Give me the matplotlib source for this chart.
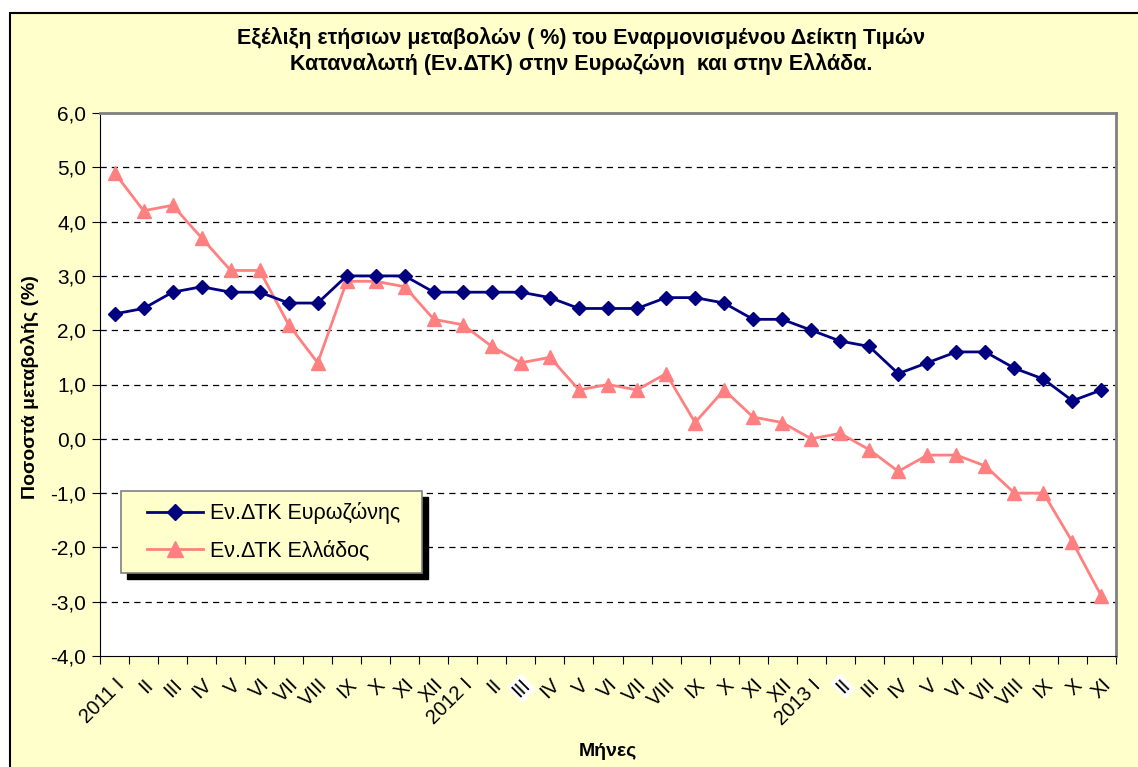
import matplotlib
matplotlib.use("Agg")
import matplotlib.pyplot as plt
from matplotlib.patches import Rectangle
from matplotlib.lines import Line2D

plt.rcParams['font.family'] = ['Liberation Sans', 'DejaVu Sans']

months = ["I", "II", "III", "IV", "V", "VI", "VII", "VIII", "IX", "X", "XI", "XII"]
labels = (["2011 I"] + months[1:] + ["2012 I"] + months[1:] + ["2013 I"] + months[1:11])

eurozone = [2.3, 2.4, 2.7, 2.8, 2.7, 2.7, 2.5, 2.5, 3.0, 3.0, 3.0, 2.7,
            2.7, 2.7, 2.7, 2.6, 2.4, 2.4, 2.4, 2.6, 2.6, 2.5, 2.2, 2.2,
            2.0, 1.8, 1.7, 1.2, 1.4, 1.6, 1.6, 1.3, 1.1, 0.7, 0.9]
greece = [4.9, 4.2, 4.3, 3.7, 3.1, 3.1, 2.1, 1.4, 2.9, 2.9, 2.8, 2.2,
          2.1, 1.7, 1.4, 1.5, 0.9, 1.0, 0.9, 1.2, 0.3, 0.9, 0.4, 0.3,
          0.0, 0.1, -0.2, -0.6, -0.3, -0.3, -0.5, -1.0, -1.0, -1.9, -2.9]
yticks = [-4, -3, -2, -1, 0, 1, 2, 3, 4, 5, 6]
highlighted = [14, 25]

W, H = 1138, 767
fig = plt.figure(figsize=(W / 100, H / 100), dpi=100)
fig.patch.set_facecolor('white')

bg = Rectangle((10 / W, -0.05), 1.1, 1 - 12.5 / H + 0.05, transform=fig.transFigure,
               facecolor='#FFFFCC', edgecolor='black', lw=1.5, zorder=-10)
fig.patches.append(bg)

ax = fig.add_axes([100 / W, 1 - 656 / H, (1116 - 100) / W, (656 - 113) / H])
ax.set_facecolor('white')
x = list(range(len(labels)))

ax.plot(x, eurozone, color='#000080', lw=2, marker='D', ms=7, mfc='#000080', mec='#000080', zorder=4)
ax.plot(x, greece, color='#FF8080', lw=2, marker='^', ms=10, mfc='#FF8080', mec='#FF8080', zorder=3)

ax.set_xlim(-0.5, len(labels) - 0.5)
ax.set_ylim(-4, 6)
ax.set_yticks(yticks)
ax.set_yticklabels([f"{v:.1f}".replace('.', ',') for v in yticks], fontsize=15)
for v in yticks[1:-1]:
    ax.axhline(v, color='black', lw=0.9, ls=(0, (5, 4)), zorder=1)

ax.set_xticks([i - 0.5 for i in range(len(labels) + 1)])
ax.set_xticklabels([])
ax.set_xticks(x, minor=True)
ax.set_xticklabels(labels, minor=True, rotation=45, ha='right', va='top',
                   rotation_mode='anchor', fontsize=14.5)
ax.tick_params(axis='x', which='minor', length=0, pad=14)
ax.tick_params(axis='x', which='major', length=6, direction='out', color='black')
ax.tick_params(axis='y', length=6, direction='out', pad=4)
for i in highlighted:
    ax.get_xticklabels(minor=True)[i].set_bbox(dict(facecolor='white', edgecolor='none', pad=1))

for s in ['top', 'right']:
    ax.spines[s].set_color('#808080')
    ax.spines[s].set_linewidth(2)
ax.spines['left'].set_color('black')
ax.spines['bottom'].set_color('black')

fig.text(30 / W, 1 - 387 / H, "Ποσοστά μεταβολής (%)", rotation=90, fontsize=14,
         fontweight='bold', ha='center', va='center')
fig.text(608 / W, 1 - 752 / H, "Μήνες", fontsize=14, fontweight='bold', ha='center', va='center')

fig.text(581 / W, 1 - 38 / H, "Εξέλιξη ετήσιων μεταβολών ( %) του Εναρμονισμένου Δείκτη Τιμών",
         fontsize=15.5, fontweight='bold', ha='center', va='center')
fig.text(581 / W, 1 - 64 / H, "Καταναλωτή (Εν.ΔΤΚ) στην Ευρωζώνη  και στην Ελλάδα.",
         fontsize=15.5, fontweight='bold', ha='center', va='center')

# legend box with shadow
lx0, ly0, lx1, ly1 = 121, 491, 422, 573
shadow = Rectangle(((lx0 + 6) / W, 1 - (ly1 + 6) / H), (lx1 - lx0) / W, (ly1 - ly0) / H,
                   transform=fig.transFigure, facecolor='black', edgecolor='black', zorder=5)
box = Rectangle((lx0 / W, 1 - ly1 / H), (lx1 - lx0) / W, (ly1 - ly0) / H,
                transform=fig.transFigure, facecolor='#FFFFCC', edgecolor='#808080', lw=1.2, zorder=6)
fig.patches.extend([shadow, box])
handles = [Line2D([], [], color='#000080', lw=2, marker='D', ms=8),
           Line2D([], [], color='#FF8080', lw=2, marker='^', ms=11)]
fig.legend(handles, ["Εν.ΔΤΚ Ευρωζώνης", "Εν.ΔΤΚ Ελλάδος"], frameon=False,
           loc='center', bbox_to_anchor=((lx0 + lx1) / 2 / W + 2 / W, 1 - (ly0 + ly1) / 2 / H),
           fontsize=15.5, handlelength=2.6, handletextpad=0.3, labelspacing=0.75).set_zorder(7)

fig.savefig("out.png", dpi=100)
